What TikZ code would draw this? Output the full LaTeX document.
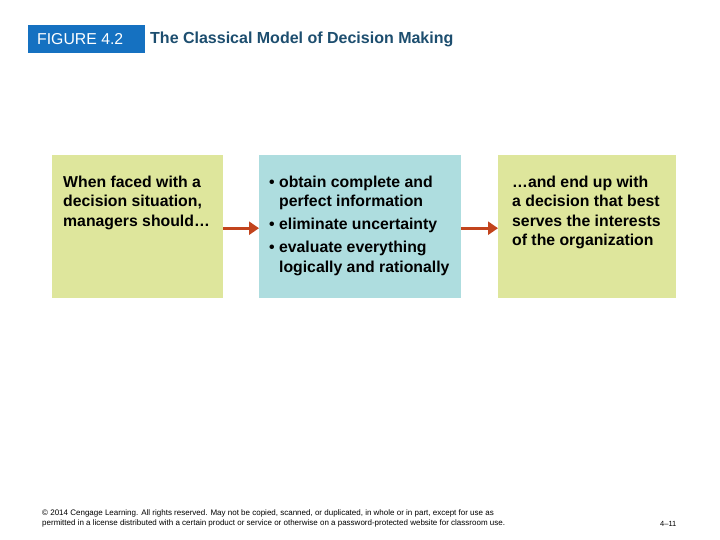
\documentclass[tikz,border=0pt]{standalone}
\usepackage{fontspec}
\setmainfont{Liberation Sans}
\usetikzlibrary{arrows.meta}
\definecolor{figblue}{HTML}{1571C1}
\definecolor{titleblue}{HTML}{1D4E6F}
\definecolor{paleolive}{HTML}{DEE69C}
\definecolor{paleteal}{HTML}{AEDDDF}
\definecolor{flowred}{HTML}{C2441D}
\tikzset{
  stagebox/.style={rectangle,inner sep=0pt,anchor=north west,minimum height=143pt},
  stagetext/.style={anchor=north west,inner sep=0pt,align=left,font=\fontsize{15.8}{19.6}\selectfont\bfseries},
  flow/.style={draw=flowred,line width=3pt,-{Triangle[length=10pt,width=13pt]}}
}
\begin{document}
\begin{tikzpicture}[x=1pt,y=-1pt]
    \useasboundingbox[fill=white] (0,0) rectangle (720,540);

    % header
    \fill[figblue] (28,25) rectangle (145,53);
    \node[anchor=west,inner sep=0pt,text=white,font=\fontsize{15.8}{18}\selectfont](fig) at (37,39) {FIGURE 4.2};
    \node[anchor=west,inner sep=0pt,text=titleblue,font=\fontsize{16}{18}\selectfont\bfseries](title) at (150,39) {The Classical Model of Decision Making};

    % the three stages
    \node[stagebox,fill=paleolive,minimum width=171pt](faced) at (52,155) {};
    \node[stagebox,fill=paleteal,minimum width=202pt](should) at (259,155) {};
    \node[stagebox,fill=paleolive,minimum width=178pt](endup) at (498,155) {};

    \node[stagetext](facedtxt) at (63,175.5) {When faced with a\\decision situation,\\managers should\dots};
    \node[stagetext](shouldtxt) at (269,175.5) {\textbullet\ obtain complete and\\\hphantom{\textbullet\ }perfect information\\[3.5pt]
      \textbullet\ eliminate uncertainty\\[3.5pt]
      \textbullet\ evaluate everything\\\hphantom{\textbullet\ }logically and rationally};
    \node[stagetext](enduptxt) at (512,175.5) {\dots and end up with\\a decision that best\\serves the interests\\of the organization};

    \draw[flow]([yshift=-1.5pt]faced.east)--([yshift=-1.5pt]should.west);
    \draw[flow]([yshift=-1.5pt]should.east)--([yshift=-1.5pt]endup.west);

    % footer
    \node[anchor=north west,inner sep=0pt,align=left,font=\fontsize{8}{10}\selectfont](copy) at (42,509) {\textcopyright\ 2014 Cengage Learning. All rights reserved. May not be copied, scanned, or duplicated, in whole or in part, except for use as\\permitted in a license distributed with a certain product or service or otherwise on a password-protected website for classroom use.};
    \node[anchor=west,inner sep=0pt,font=\fontsize{7.5}{9}\selectfont](page) at (660,524) {4--11};
  \end{tikzpicture}
\end{document}
